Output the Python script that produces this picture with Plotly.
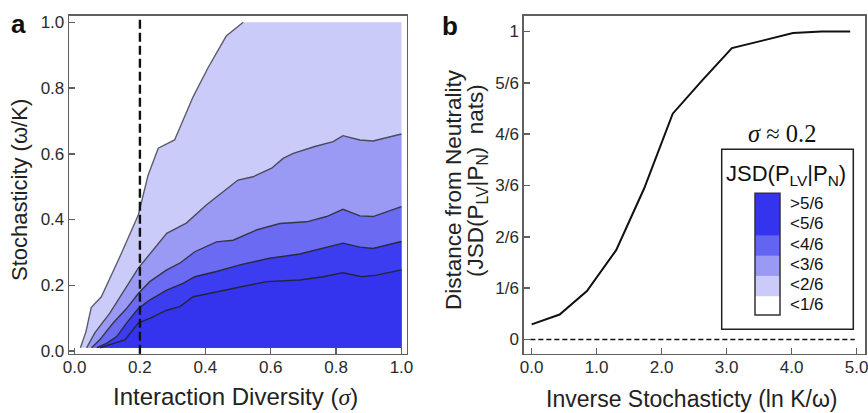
import plotly.graph_objects as go

W, H = 868, 413

# ---------------- Panel a data ----------------
SIGMA_TICKS = [0.0, 0.2, 0.4, 0.6, 0.8, 1.0]
SIGMA_TICK_LABELS = ["0.0", "0.2", "0.4", "0.6", "0.8", "1.0"]
OMEGA_TICKS = [0.0, 0.2, 0.4, 0.6, 0.8, 1.0]
OMEGA_TICK_LABELS = ["0.0", "0.2", "0.4", "0.6", "0.8", "1.0"]
OMEGA_BOTTOM = 0.01
OMEGA_TOP = 1.0
SIGMA_RIGHT = 1.0
SIGMA_MARK = 0.2

b1_sigma = [0.018, 0.035, 0.051, 0.082, 0.14, 0.195, 0.225, 0.256, 0.306, 0.363, 0.408, 0.464, 0.516]
b1_omega = [0.01, 0.059, 0.132, 0.165, 0.29, 0.414, 0.535, 0.617, 0.642, 0.774, 0.861, 0.958, 1.0]

b2_sigma = [0.037, 0.062, 0.108, 0.195, 0.282, 0.342, 0.403, 0.464, 0.50, 0.546, 0.603, 0.638, 0.669, 0.735, 0.791, 0.821, 0.873, 0.913, 1.0]
b2_omega = [0.01, 0.055, 0.115, 0.252, 0.358, 0.389, 0.444, 0.490, 0.52, 0.53, 0.556, 0.586, 0.601, 0.622, 0.637, 0.655, 0.642, 0.639, 0.66]

b3_sigma = [0.052, 0.077, 0.118, 0.159, 0.195, 0.230, 0.282, 0.322, 0.368, 0.434, 0.485, 0.556, 0.628, 0.71, 0.771, 0.821, 0.873, 0.913, 1.0]
b3_omega = [0.01, 0.034, 0.085, 0.129, 0.175, 0.211, 0.247, 0.267, 0.302, 0.332, 0.337, 0.368, 0.388, 0.393, 0.409, 0.431, 0.411, 0.409, 0.439]

b4_sigma = [0.068, 0.098, 0.129, 0.159, 0.195, 0.230, 0.282, 0.332, 0.368, 0.434, 0.506, 0.597, 0.689, 0.76, 0.821, 0.873, 0.913, 1.0]
b4_omega = [0.01, 0.023, 0.044, 0.085, 0.129, 0.155, 0.185, 0.206, 0.226, 0.242, 0.262, 0.282, 0.295, 0.312, 0.328, 0.316, 0.312, 0.333]

b5_sigma = [0.078, 0.118, 0.154, 0.195, 0.230, 0.282, 0.322, 0.363, 0.434, 0.506, 0.587, 0.689, 0.76, 0.821, 0.878, 0.92, 1.0]
b5_omega = [0.01, 0.023, 0.034, 0.085, 0.099, 0.124, 0.135, 0.165, 0.18, 0.196, 0.211, 0.216, 0.226, 0.238, 0.226, 0.23, 0.247]

LEVEL_COLORS = ["#cbcbf9", "#9a9af5", "#6a6af2", "#3c3cf0", "#3434ee"]
LINE_COLORS = ["#5c5c6c", "#4a4a5c", "#363648", "#2a2a3c", "#24243a"]

# ---------------- Panel b data ----------------
LN_K_OMEGA = [0.0, 0.43, 0.85, 1.3, 1.73, 2.17, 2.62, 3.08, 3.55, 4.02, 4.46, 4.9]
JSD_VALUES = [0.049, 0.081, 0.157, 0.29, 0.49, 0.733, 0.84, 0.946, 0.97, 0.995, 1.0, 1.0]
X2_TICKS = [0, 1, 2, 3, 4, 5]
X2_TICK_LABELS = ["0.0", "1.0", "2.0", "3.0", "4.0", "5.0"]
Y2_TICKS = [0, 1/6, 2/6, 3/6, 4/6, 5/6, 1]
Y2_TICK_LABELS = ["0", "1/6", "2/6", "3/6", "4/6", "5/6", "1"]
ZERO_LINE_X = [-0.02, 4.97]
ZERO_LINE_Y = [0, 0]

LEGEND_LABELS = [">5/6", "<5/6", "<4/6", "<3/6", "<2/6", "<1/6"]
LEGEND_COLORS = ["#3434ee", "#3434ee", "#6464f2", "#9a9af5", "#cbcbf9", "#ffffff"]


def px(x):
    return x / W


def py(y):
    return 1 - y / H


FONT = "Liberation Sans, Arial, sans-serif"
SERIF = "Liberation Serif, Times New Roman, serif"
TICK_FONT = dict(family=FONT, size=17, color="#2a2a2a")
FRAME = "#606060"

fig = go.Figure()

boundaries = [(b1_sigma, b1_omega), (b2_sigma, b2_omega), (b3_sigma, b3_omega),
              (b4_sigma, b4_omega), (b5_sigma, b5_omega)]

# filled regions (light to dark)
for i, (s, o) in enumerate(boundaries):
    xs = list(s)
    ys = list(o)
    if ys[-1] >= OMEGA_TOP:
        xs.append(SIGMA_RIGHT)
        ys.append(OMEGA_TOP)
    xs.append(SIGMA_RIGHT)
    ys.append(OMEGA_BOTTOM)
    fig.add_trace(go.Scatter(x=xs, y=ys, fill="toself", fillcolor=LEVEL_COLORS[i],
                             line=dict(width=0), mode="lines", hoverinfo="skip",
                             showlegend=False, xaxis="x", yaxis="y"))

# contour lines
for i, (s, o) in enumerate(boundaries):
    fig.add_trace(go.Scatter(x=s, y=o, mode="lines",
                             line=dict(color=LINE_COLORS[i], width=1.4),
                             showlegend=False, xaxis="x", yaxis="y"))

# panel b curve
fig.add_trace(go.Scatter(x=ZERO_LINE_X, y=ZERO_LINE_Y, mode="lines",
                         line=dict(color="#111111", width=1.6, dash="5px,3px"),
                         showlegend=False, xaxis="x2", yaxis="y2"))
fig.add_trace(go.Scatter(x=LN_K_OMEGA, y=JSD_VALUES, mode="lines",
                         line=dict(color="#111111", width=2),
                         showlegend=False, xaxis="x2", yaxis="y2"))

YDOM = [py(353.8), py(15.7)]

axis_common = dict(showgrid=False, zeroline=False, showline=True, mirror=True,
                   linecolor=FRAME, linewidth=1.6, ticks="inside", ticklen=6,
                   tickwidth=1.5, tickcolor=FRAME, tickfont=TICK_FONT, automargin=False,
                   ticklabeloverflow="allow")

fig.update_layout(
    width=W, height=H,
    margin=dict(l=0, r=0, t=0, b=0, pad=0),
    paper_bgcolor="white", plot_bgcolor="white",
    xaxis=dict(domain=[px(69.3), px(406.7)], range=[-0.016, 1.016], ticklabelstandoff=-3,
               tickvals=SIGMA_TICKS, ticktext=SIGMA_TICK_LABELS, anchor="y", **axis_common),
    yaxis=dict(domain=YDOM, range=[-0.0085, 1.02],
               tickvals=OMEGA_TICKS, ticktext=OMEGA_TICK_LABELS, anchor="x", **axis_common),
    xaxis2=dict(domain=[px(524), px(865)], range=[-0.118, 5.128], ticklabelstandoff=-3,
                tickvals=X2_TICKS, ticktext=X2_TICK_LABELS, anchor="y2", **axis_common),
    yaxis2=dict(domain=YDOM, range=[-0.0465, 1.051],
                tickvals=Y2_TICKS, ticktext=Y2_TICK_LABELS, anchor="x2", **axis_common),
)

shapes = []
# dashed sigma marker
shapes.append(dict(type="line", xref="x", yref="y domain", x0=SIGMA_MARK, x1=SIGMA_MARK,
                   y0=0, y1=1, line=dict(color="#111111", width=2.4, dash="9px,4px"), layer="above"))
# legend box
shapes.append(dict(type="rect", xref="paper", yref="paper", x0=px(721.7), x1=px(853.3),
                   y0=py(329.3), y1=py(149.3), line=dict(color="#222222", width=1.5),
                   fillcolor="rgba(0,0,0,0)"))
# legend swatches (drawn bottom-up with slight overlap to avoid seams)
top, bottom = 193.3, 315.0
bh = (bottom - top) / len(LEGEND_COLORS)
for k in reversed(range(len(LEGEND_COLORS))):
    c = LEGEND_COLORS[k]
    shapes.append(dict(type="rect", xref="paper", yref="paper", x0=px(755), x1=px(780),
                       y0=py(top + (k + 1) * bh + (0 if k == len(LEGEND_COLORS) - 1 else 1.5)),
                       y1=py(top + k * bh),
                       line=dict(width=0), fillcolor=c))
shapes.append(dict(type="rect", xref="paper", yref="paper", x0=px(755), x1=px(780),
                   y0=py(bottom), y1=py(top), line=dict(color="#333333", width=1.5),
                   fillcolor="rgba(0,0,0,0)"))
fig.update_layout(shapes=shapes)

ann = []


def A(text, x, y, size=21, angle=0, family=FONT, xanchor="center", color="#222222"):
    ann.append(dict(text=text, x=px(x), y=py(y), xref="paper", yref="paper",
                    showarrow=False, textangle=angle, xanchor=xanchor, yanchor="middle",
                    font=dict(family=family, size=size, color=color)))


SIG = '<span style="font-family:Liberation Serif;font-style:italic">σ</span>'
A("<b>a</b>", 18.5, 24, size=26, color="#111111")
A("<b>b</b>", 450, 26, size=26, color="#111111")
A("Interaction Diversity (" + SIG + ")", 235, 396, size=24)
A("Stochasticity (ω/K)", 19, 190, size=22, angle=-90)
A("Inverse Stochasticty (ln K/ω)", 692, 399, size=23)
A("Distance from Neutrality", 453, 190, size=22.5, angle=-90)
A("(JSD(P<sub>LV</sub>|P<sub>N</sub>)  nats)", 477, 181, size=22.5, angle=-90)
A("<i>σ</i> ≈ 0.2", 782, 133, size=24.5, family=SERIF, color="#111111")
A("JSD(P<sub>LV</sub>|P<sub>N</sub>)", 786, 175, size=22, color="#111111")
for k, lab in enumerate(LEGEND_LABELS):
    A(lab, 788.3, top + (k + 0.5) * bh, size=17, xanchor="left", color="#111111")
fig.update_layout(annotations=ann)

fig.write_html("out.html", config={"displayModeBar": False, "staticPlot": True},
               post_script="document.body.style.margin='0px';document.body.style.overflow='hidden';")
